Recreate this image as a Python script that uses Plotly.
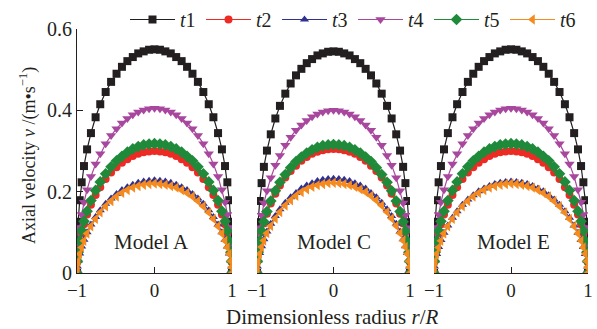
import plotly.graph_objects as go

# Dimensionless radius r/R
r_R = [-1.0, -0.995, -0.985, -0.965, -0.94, -0.91, -0.87, -0.82, -0.76, -0.70, -0.63, -0.56, -0.49,
       -0.42, -0.35, -0.28, -0.21, -0.14, -0.07, 0.0, 0.07, 0.14, 0.21, 0.28, 0.35, 0.42, 0.49, 0.56,
       0.63, 0.70, 0.76, 0.82, 0.87, 0.91, 0.94, 0.965, 0.985, 0.995, 1.0]

series_names = ["t1", "t2", "t3", "t4", "t5", "t6"]
model_names = ["Model A", "Model C", "Model E"]
model_label_x = [-0.04, 0.0, 0.03]
x_ticks = [-1, 0, 1]
x_tick_labels = ["\u22121", "0", "1"]
y_ticks = [0, 0.2, 0.4, 0.6]
y_tick_labels = ["0", "0.2", "0.4", "0.6"]

# ---- Model A ----
A_t1 = [0, 0.079, 0.126, 0.179, 0.223, 0.263, 0.304, 0.344, 0.383, 0.415, 0.445, 0.470, 0.490, 0.507, 0.521, 0.531, 0.540, 0.545, 0.549, 0.550,
        0.549, 0.545, 0.540, 0.531, 0.521, 0.507, 0.490, 0.470, 0.445, 0.415, 0.383, 0.344, 0.304, 0.263, 0.223, 0.179, 0.126, 0.079, 0]
A_t2 = [0, 0.027, 0.048, 0.075, 0.098, 0.120, 0.144, 0.168, 0.192, 0.211, 0.231, 0.247, 0.260, 0.271, 0.280, 0.288, 0.293, 0.297, 0.299, 0.300,
        0.299, 0.297, 0.293, 0.288, 0.280, 0.271, 0.260, 0.247, 0.231, 0.211, 0.192, 0.168, 0.144, 0.120, 0.098, 0.075, 0.048, 0.027, 0]
A_t3 = [0, 0.016, 0.030, 0.048, 0.065, 0.082, 0.100, 0.119, 0.138, 0.154, 0.170, 0.183, 0.194, 0.204, 0.211, 0.217, 0.222, 0.225, 0.227, 0.228,
        0.227, 0.225, 0.222, 0.217, 0.211, 0.204, 0.194, 0.183, 0.170, 0.154, 0.138, 0.119, 0.100, 0.082, 0.065, 0.048, 0.030, 0.016, 0]
A_t4 = [0, 0.044, 0.075, 0.112, 0.144, 0.174, 0.205, 0.237, 0.268, 0.293, 0.318, 0.338, 0.355, 0.369, 0.380, 0.389, 0.396, 0.401, 0.404, 0.405,
        0.404, 0.401, 0.396, 0.389, 0.380, 0.369, 0.355, 0.338, 0.318, 0.293, 0.268, 0.237, 0.205, 0.174, 0.144, 0.112, 0.075, 0.044, 0]
A_t5 = [0, 0.029, 0.051, 0.079, 0.104, 0.127, 0.152, 0.178, 0.203, 0.224, 0.244, 0.261, 0.276, 0.287, 0.297, 0.305, 0.311, 0.315, 0.317, 0.318,
        0.317, 0.315, 0.311, 0.305, 0.297, 0.287, 0.276, 0.261, 0.244, 0.224, 0.203, 0.178, 0.152, 0.127, 0.104, 0.079, 0.051, 0.029, 0]
A_t6 = [0, 0.015, 0.029, 0.047, 0.063, 0.079, 0.097, 0.115, 0.133, 0.149, 0.164, 0.177, 0.188, 0.197, 0.204, 0.210, 0.214, 0.217, 0.219, 0.220,
        0.219, 0.217, 0.214, 0.210, 0.204, 0.197, 0.188, 0.177, 0.164, 0.149, 0.133, 0.115, 0.097, 0.079, 0.063, 0.047, 0.029, 0.015, 0]

# ---- Model C ----
C_t1 = [0, 0.078, 0.125, 0.177, 0.221, 0.261, 0.301, 0.341, 0.380, 0.411, 0.441, 0.466, 0.486, 0.502, 0.516, 0.526, 0.535, 0.540, 0.544, 0.545,
        0.544, 0.540, 0.535, 0.526, 0.516, 0.502, 0.486, 0.466, 0.441, 0.411, 0.380, 0.341, 0.301, 0.261, 0.221, 0.177, 0.125, 0.078, 0]
C_t2 = [0, 0.028, 0.049, 0.076, 0.100, 0.122, 0.146, 0.171, 0.195, 0.215, 0.235, 0.251, 0.264, 0.276, 0.285, 0.293, 0.298, 0.302, 0.304, 0.305,
        0.304, 0.302, 0.298, 0.293, 0.285, 0.276, 0.264, 0.251, 0.235, 0.215, 0.195, 0.171, 0.146, 0.122, 0.100, 0.076, 0.049, 0.028, 0]
C_t3 = [0, 0.016, 0.031, 0.049, 0.066, 0.083, 0.102, 0.121, 0.140, 0.157, 0.173, 0.186, 0.197, 0.208, 0.215, 0.221, 0.226, 0.229, 0.231, 0.232,
        0.231, 0.229, 0.226, 0.221, 0.215, 0.208, 0.197, 0.186, 0.173, 0.157, 0.140, 0.121, 0.102, 0.083, 0.066, 0.049, 0.031, 0.016, 0]
C_t4 = [0, 0.043, 0.074, 0.111, 0.142, 0.172, 0.202, 0.234, 0.265, 0.289, 0.314, 0.334, 0.351, 0.364, 0.375, 0.384, 0.391, 0.396, 0.399, 0.400,
        0.399, 0.396, 0.391, 0.384, 0.375, 0.364, 0.351, 0.334, 0.314, 0.289, 0.265, 0.234, 0.202, 0.172, 0.142, 0.111, 0.074, 0.043, 0]
C_t5 = [0, 0.029, 0.051, 0.078, 0.103, 0.126, 0.151, 0.177, 0.202, 0.223, 0.242, 0.259, 0.274, 0.285, 0.295, 0.303, 0.309, 0.313, 0.315, 0.316,
        0.315, 0.313, 0.309, 0.303, 0.295, 0.285, 0.274, 0.259, 0.242, 0.223, 0.202, 0.177, 0.151, 0.126, 0.103, 0.078, 0.051, 0.029, 0]
C_t6 = [0, 0.015, 0.029, 0.047, 0.064, 0.080, 0.098, 0.116, 0.134, 0.150, 0.166, 0.179, 0.190, 0.199, 0.206, 0.212, 0.216, 0.219, 0.221, 0.222,
        0.221, 0.219, 0.216, 0.212, 0.206, 0.199, 0.190, 0.179, 0.166, 0.150, 0.134, 0.116, 0.098, 0.080, 0.064, 0.047, 0.029, 0.015, 0]

# ---- Model E ----
E_t1 = [0, 0.079, 0.126, 0.179, 0.223, 0.263, 0.304, 0.344, 0.383, 0.415, 0.445, 0.470, 0.490, 0.507, 0.521, 0.531, 0.540, 0.545, 0.549, 0.550,
        0.549, 0.545, 0.540, 0.531, 0.521, 0.507, 0.490, 0.470, 0.445, 0.415, 0.383, 0.344, 0.304, 0.263, 0.223, 0.179, 0.126, 0.079, 0]
E_t2 = [0, 0.027, 0.048, 0.075, 0.098, 0.120, 0.144, 0.168, 0.192, 0.211, 0.231, 0.247, 0.260, 0.271, 0.280, 0.288, 0.293, 0.297, 0.299, 0.300,
        0.299, 0.297, 0.293, 0.288, 0.280, 0.271, 0.260, 0.247, 0.231, 0.211, 0.192, 0.168, 0.144, 0.120, 0.098, 0.075, 0.048, 0.027, 0]
E_t3 = [0, 0.016, 0.030, 0.047, 0.064, 0.081, 0.099, 0.117, 0.136, 0.152, 0.168, 0.181, 0.191, 0.201, 0.208, 0.214, 0.219, 0.222, 0.224, 0.225,
        0.224, 0.222, 0.219, 0.214, 0.208, 0.201, 0.191, 0.181, 0.168, 0.152, 0.136, 0.117, 0.099, 0.081, 0.064, 0.047, 0.030, 0.016, 0]
E_t4 = [0, 0.044, 0.075, 0.112, 0.144, 0.174, 0.205, 0.237, 0.268, 0.293, 0.318, 0.338, 0.355, 0.369, 0.380, 0.389, 0.396, 0.401, 0.404, 0.405,
        0.404, 0.401, 0.396, 0.389, 0.380, 0.369, 0.355, 0.338, 0.318, 0.293, 0.268, 0.237, 0.205, 0.174, 0.144, 0.112, 0.075, 0.044, 0]
E_t5 = [0, 0.029, 0.051, 0.079, 0.104, 0.127, 0.152, 0.178, 0.203, 0.224, 0.244, 0.261, 0.276, 0.287, 0.297, 0.305, 0.311, 0.315, 0.317, 0.318,
        0.317, 0.315, 0.311, 0.305, 0.297, 0.287, 0.276, 0.261, 0.244, 0.224, 0.203, 0.178, 0.152, 0.127, 0.104, 0.079, 0.051, 0.029, 0]
E_t6 = [0, 0.015, 0.029, 0.047, 0.063, 0.079, 0.097, 0.115, 0.133, 0.149, 0.164, 0.177, 0.188, 0.197, 0.204, 0.210, 0.214, 0.217, 0.219, 0.220,
        0.219, 0.217, 0.214, 0.210, 0.204, 0.197, 0.188, 0.177, 0.164, 0.149, 0.133, 0.115, 0.097, 0.079, 0.063, 0.047, 0.029, 0.015, 0]

panels = [
    [A_t1, A_t2, A_t3, A_t4, A_t5, A_t6],
    [C_t1, C_t2, C_t3, C_t4, C_t5, C_t6],
    [E_t1, E_t2, E_t3, E_t4, E_t5, E_t6],
]

colors = ["#231f20", "#ee2a24", "#2e3192", "#a8479e", "#1f8a3a", "#f58a1f"]
symbols = ["square", "circle", "triangle-up", "triangle-down", "diamond", "triangle-left"]
sizes = [8, 8, 8, 9, 9, 9]

W, H = 597, 329
x_domains = [(77 / W, 232 / W), (257 / W, 410 / W), (434 / W, 588 / W)]
y_domain = ((H - 273) / H, (H - 29) / H)

FONT = "Liberation Serif, Times New Roman, serif"
INK = "#231f20"

fig = go.Figure()
for p, data in enumerate(panels):
    xa = "x" if p == 0 else f"x{p + 1}"
    ya = "y" if p == 0 else f"y{p + 1}"
    for i, vals in enumerate(data):
        fig.add_trace(go.Scatter(
            x=r_R, y=vals, xaxis=xa, yaxis=ya, mode="lines+markers",
            name=f"<i>t</i>{series_names[i][1:]}",
            legendgroup=series_names[i], showlegend=(p == 0),
            line=dict(color=colors[i], width=1.2),
            marker=dict(symbol=symbols[i], size=sizes[i], color=colors[i], line=dict(width=0)),
        ))

layout = dict(
    width=W, height=H,
    margin=dict(l=0, r=0, t=0, b=0, autoexpand=False),
    paper_bgcolor="white", plot_bgcolor="white",
    font=dict(family=FONT, size=18, color=INK),
    showlegend=True,
    legend=dict(orientation="h", x=125 / W, y=1.0, xanchor="left", yanchor="top",
                font=dict(family=FONT, size=20, color=INK), bgcolor="rgba(0,0,0,0)",
                entrywidth=16, tracegroupgap=0, itemwidth=45),
)
for p in range(3):
    xk = "xaxis" if p == 0 else f"xaxis{p + 1}"
    yk = "yaxis" if p == 0 else f"yaxis{p + 1}"
    layout[xk] = dict(
        domain=list(x_domains[p]), range=[-1, 1], anchor="y" if p == 0 else f"y{p + 1}",
        tickvals=x_ticks, ticktext=x_tick_labels, ticks="inside", ticklen=6, tickcolor=INK,
        showline=True, linecolor=INK, linewidth=1, showgrid=False, zeroline=False,
        tickfont=dict(family=FONT, size=19, color=INK), automargin=False,
    )
    layout[yk] = dict(
        domain=list(y_domain), range=[0, 0.6], anchor="x" if p == 0 else f"x{p + 1}",
        tickvals=y_ticks, ticktext=y_tick_labels, ticks="inside" if p == 0 else "",
        ticklen=6, tickcolor=INK, showticklabels=(p == 0),
        showline=(p == 0), linecolor=INK, linewidth=1, showgrid=False, zeroline=False,
        tickfont=dict(family=FONT, size=20, color=INK), automargin=False,
    )
fig.update_layout(**layout)

annotations = []
for p in range(3):
    annotations.append(dict(
        x=model_label_x[p], y=0.077, xref="x" if p == 0 else f"x{p + 1}", yref="y" if p == 0 else f"y{p + 1}",
        text=model_names[p], showarrow=False, font=dict(family=FONT, size=21, color=INK),
        xanchor="center", yanchor="middle",
    ))
annotations.append(dict(
    x=332 / W, y=(H - 317) / H, xref="paper", yref="paper", showarrow=False,
    xanchor="center", yanchor="middle",
    text="Dimensionless radius <i>r</i>/<i>R</i>", font=dict(family=FONT, size=21, color=INK),
))
annotations.append(dict(
    x=28 / W, y=(H - 156) / H, xref="paper", yref="paper", showarrow=False, textangle=-90,
    xanchor="center", yanchor="middle",
    text="Axial velocity <i>v</i> /(m\u2022s<sup>\u22121</sup>)", font=dict(family=FONT, size=18, color=INK),
))
fig.update_layout(annotations=annotations)

fig.write_html("out.html")
